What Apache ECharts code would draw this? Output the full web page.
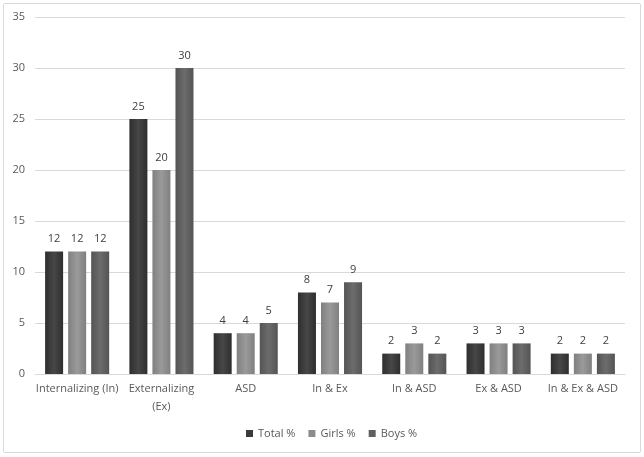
<!DOCTYPE html>
<html>
<head>
<meta charset="utf-8">
<script src="https://cdn.jsdelivr.net/npm/echarts@6/dist/echarts.min.js"></script>
<style>
  html, body { margin: 0; padding: 0; background: #fff; }
  #chart { position: absolute; left: 3px; top: 3px; width: 636px; height: 448px; border: 1px solid #d9d9d9; border-radius: 2px; }
</style>
</head>
<body>
<div id="chart"></div>
<script>
// categories and values
const categories = ["Internalizing (In)", "Externalizing\n(Ex)", "ASD", "In & Ex", "In & ASD", "Ex & ASD", "In & Ex & ASD"];
const totalPct = [12, 25, 4, 8, 2, 3, 2];
const girlsPct = [12, 20, 4, 7, 3, 3, 2];
const boysPct = [12, 30, 5, 9, 2, 3, 2];
const seriesNames = ["Total %", "Girls %", "Boys %"];

// horizontal shading like the office bars
function shade(edge, mid) {
  return new echarts.graphic.LinearGradient(0, 0, 1, 0, [
    { offset: 0, color: edge },
    { offset: 0.5, color: mid },
    { offset: 1, color: edge },
  ]);
}

const font = "'Open Sans', 'Liberation Sans', sans-serif";
const styles = [
  { edge: "#2e2e2e", mid: "#474747", legend: "#3a3a3a" },
  { edge: "#808080", mid: "#9a9a9a", legend: "#8c8c8c" },
  { edge: "#545454", mid: "#6c6c6c", legend: "#606060" },
];
const dataList = [totalPct, girlsPct, boysPct];

var myChart = echarts.init(document.getElementById("chart"));
myChart.setOption({
  animation: false,
  textStyle: { fontFamily: font },
  grid: { left: 31, right: 15, top: 13, bottom: 78 },
  legend: {
    bottom: 8,
    left: 237,
    itemWidth: 7,
    itemHeight: 7,
    itemGap: 13,
    icon: "rect",
    textStyle: { color: "#595959", fontSize: 11, fontFamily: font },
    data: seriesNames.map((n, i) => ({ name: n, itemStyle: { color: styles[i].legend } })),
  },
  xAxis: {
    type: "category",
    data: categories,
    axisLine: { lineStyle: { color: "#d9d9d9" } },
    axisTick: { show: false },
    axisLabel: { color: "#595959", fontSize: 11, margin: 6, lineHeight: 18, interval: 0 },
  },
  yAxis: {
    type: "value",
    min: 0,
    max: 35,
    interval: 5,
    axisLine: { show: false },
    axisTick: { show: false },
    splitLine: { lineStyle: { color: "#d9d9d9" } },
    axisLabel: { color: "#595959", fontSize: 11, margin: 10 },
  },
  series: dataList.map((d, i) => ({
    name: seriesNames[i],
    type: "bar",
    data: d,
    barWidth: 18,
    barGap: "28%",
    itemStyle: { color: shade(styles[i].edge, styles[i].mid) },
    label: {
      show: true,
      position: "top",
      distance: 7,
      color: "#404040",
      fontSize: 11,
    },
  })),
});
</script>
</body>
</html>
